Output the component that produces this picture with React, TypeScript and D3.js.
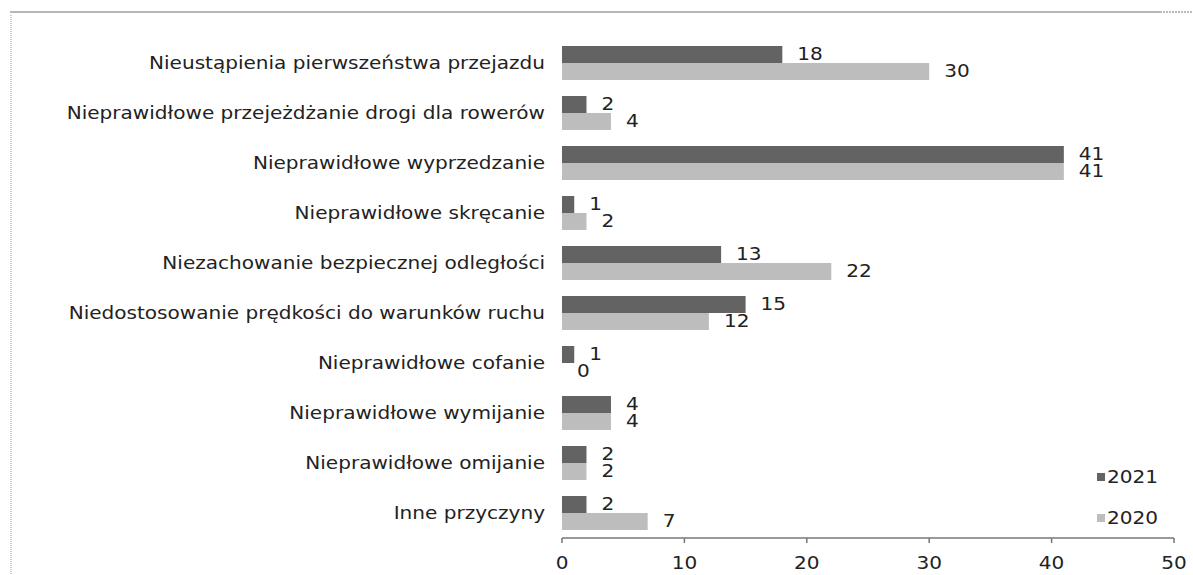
import React from "react";
import * as d3 from "d3";

const categories = [
  "Nieustąpienia pierwszeństwa przejazdu",
  "Nieprawidłowe przejeżdżanie drogi dla rowerów",
  "Nieprawidłowe wyprzedzanie",
  "Nieprawidłowe skręcanie",
  "Niezachowanie bezpiecznej odległości",
  "Niedostosowanie prędkości do warunków ruchu",
  "Nieprawidłowe cofanie",
  "Nieprawidłowe wymijanie",
  "Nieprawidłowe omijanie",
  "Inne przyczyny",
];
const values2021 = [18, 2, 41, 1, 13, 15, 1, 4, 2, 2];
const values2020 = [30, 4, 41, 2, 22, 12, 0, 4, 2, 7];
const seriesNames = ["2021", "2020"];
const seriesColors = ["#636363", "#bdbdbd"];
const xTicks = [0, 10, 20, 30, 40, 50];

const W = 1193;
const H = 575;
const FONT = "'DejaVu Sans', Verdana, sans-serif";
const FS = 17;
const SX = 1.18;

function T({ x, y, anchor = "start", children }: any) {
  return (
    <text
      transform={`translate(${x},${y}) scale(${SX},1)`}
      textAnchor={anchor}
      dominantBaseline="central"
      fontFamily={FONT}
      fontSize={FS}
      fill="#222"
    >
      {children}
    </text>
  );
}

export default function App() {
  const x = d3.scaleLinear().domain([0, 50]).range([562, 1174]);
  const y = d3
    .scaleBand<string>()
    .domain(categories)
    .range([38, 538])
    .paddingInner(0.32)
    .paddingOuter(0.16);
  const ySub = d3.scaleBand<string>().domain(seriesNames).range([0, y.bandwidth()]);
  const series = [values2021, values2020];
  const axisY = 538;

  return (
    <svg
      width={W}
      height={H}
      style={{ position: "absolute", left: 0, top: 0, background: "#fff" }}
    >
      {/* frame */}
      <line x1={10} x2={1160} y1={12} y2={12} stroke="#a0a0a0" strokeWidth={1.5} />
      <line x1={1160} x2={1193} y1={12} y2={12} stroke="#777" strokeWidth={1} strokeDasharray="2,1" />
      <line x1={11} x2={11} y1={15} y2={575} stroke="#999" strokeWidth={1} strokeDasharray="1,1" />

      {/* bars */}
      {categories.map((c, i) => (
        <g key={c}>
          {series.map((vals, s) => {
            const by = (y(c) as number) + (ySub(seriesNames[s]) as number);
            const bh = ySub.bandwidth();
            return (
              <g key={s}>
                <rect
                  x={x(0)}
                  y={by}
                  width={x(vals[i]) - x(0)}
                  height={bh}
                  fill={seriesColors[s]}
                />
                <T x={x(vals[i]) + 15} y={by + bh / 2}>
                  {vals[i]}
                </T>
              </g>
            );
          })}
          <T x={545} y={(y(c) as number) + y.bandwidth() / 2} anchor="end">
            {c}
          </T>
        </g>
      ))}

      {/* x axis */}
      <line x1={x(0)} x2={x(50)} y1={axisY} y2={axisY} stroke="#777" strokeWidth={1.5} />
      {xTicks.map((t) => (
        <g key={t}>
          <line x1={x(t)} x2={x(t)} y1={axisY} y2={axisY + 5} stroke="#777" strokeWidth={1.5} />
          <T x={x(t)} y={563} anchor="middle">
            {t}
          </T>
        </g>
      ))}

      {/* legend */}
      {seriesNames.map((n, i) => {
        const ly = 477 + i * 41;
        return (
          <g key={n}>
            <rect x={1097} y={ly - 4} width={8} height={8} fill={seriesColors[i]} />
            <T x={1107} y={ly}>
              {n}
            </T>
          </g>
        );
      })}
    </svg>
  );
}
